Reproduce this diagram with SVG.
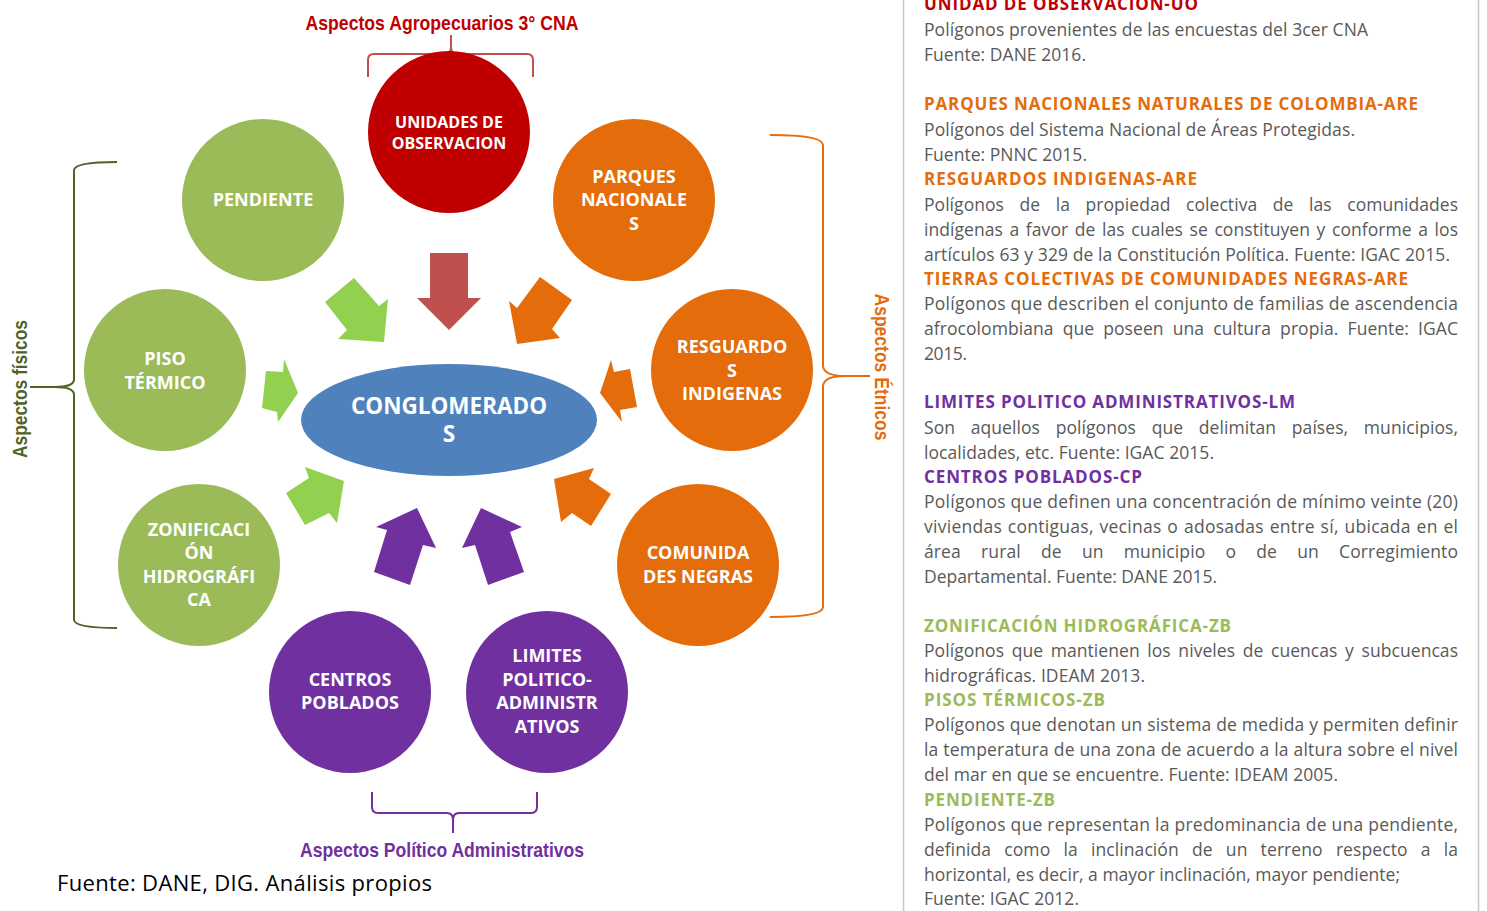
<svg xmlns="http://www.w3.org/2000/svg" width="1487" height="911" viewBox="0 0 1487 911">
<defs>
<style>
.nt{font-family:"Open Sans","DejaVu Sans",sans-serif;font-weight:bold;font-size:18px;fill:#fff;text-anchor:middle}
.lbl{font-family:"Liberation Sans Narrow","Liberation Sans",Arial,sans-serif;font-weight:bold;font-size:21px}
.b{font-family:"Open Sans","DejaVu Sans",sans-serif;font-size:17.5px;fill:#595959}
.h{font-family:"Open Sans","DejaVu Sans",sans-serif;font-size:17px;font-weight:bold}
.br{fill:none;stroke-width:2}
</style>
</defs>
<rect width="1487" height="911" fill="#fff"/>

<!-- right panel borders -->
<line x1="903.5" y1="0" x2="903.5" y2="911" stroke="#c8c8c8" stroke-width="1.5"/>
<line x1="1478.5" y1="0" x2="1478.5" y2="911" stroke="#c8c8c8" stroke-width="1.5"/>

<!-- brackets / labels -->
<g id="bracket-agro">
<path class="br" stroke="#C0504D" d="M368,77 V60 Q368,54 374,54 H444 Q451,54 451,47 V35 M451,47 Q451,54 458,54 H527 Q533,54 533,60 V77"/>
<text class="lbl" x="442" y="30" fill="#C00000" text-anchor="middle" textLength="273" lengthAdjust="spacingAndGlyphs">Aspectos Agropecuarios 3° CNA</text>
</g>
<g id="bracket-fisicos">
<path class="br" stroke="#4F6228" d="M117,162 Q75,162 74,170 V380 Q73,387 55,387 H30 M55,387 Q73,387 74,394 V620 Q75,628 117,628"/>
<text class="lbl" transform="translate(27,389) rotate(-90)" x="0" y="0" fill="#4F6228" text-anchor="middle" textLength="138" lengthAdjust="spacingAndGlyphs">Aspectos físicos</text>
</g>
<g id="bracket-etnicos">
<path class="br" stroke="#E46C0A" d="M770,135 Q823,135 823,145 V366 Q824,376 845,376 H870 M845,376 Q824,376 823,386 V607 Q823,617 770,617"/>
<text class="lbl" transform="translate(875,367) rotate(90)" x="0" y="0" fill="#E46C0A" text-anchor="middle" textLength="147" lengthAdjust="spacingAndGlyphs">Aspectos Étnicos</text>
</g>
<g id="bracket-politico">
<path class="br" stroke="#7030A0" d="M372,792 V807 Q372,813 378,813 H447 Q453,813 453,820 V833 M453,820 Q453,813 459,813 H531 Q537,813 537,807 V792"/>
<text class="lbl" x="442" y="857" fill="#7030A0" text-anchor="middle" textLength="284" lengthAdjust="spacingAndGlyphs">Aspectos Político Administrativos</text>
</g>

<!-- connectors (block arrows) -->
<g id="connectors">
<polygon fill="#C0504D" points="430,253 468,253 468,298 481,298 449,330 417,298 430,298"/>
<polygon fill="#92D050" points="325,302 354,278 379,306 388,299 384,342 338,339 347,330"/>
<polygon fill="#E46C0A" points="540,277 572,300 552,329 560,338 517,344 509,301 517,308"/>
<polygon fill="#92D050" points="266,371 283,372 284,359 298,393 278,422 277,412 262,408"/>
<polygon fill="#E46C0A" points="600,393 611,360 614,372 630,369 637,407 620,410 622,422"/>
<polygon fill="#92D050" points="305,467 344,481 337,523 329,513 305,525 286,493 309,478"/>
<polygon fill="#E46C0A" points="554,479 594,468 589,479 611,494 591,526 572,513 561,522"/>
<polygon fill="#7030A0" points="376,527 417,508 436,548 423,545 410,585 374,572 387,530"/>
<polygon fill="#7030A0" points="462,548 481,508 522,527 510,532 524,572 488,585 475,545"/>
</g>

<!-- nodes -->
<g id="node-unidades">
<circle cx="449" cy="132" r="81" fill="#C00000"/>
<text class="nt" x="449" y="128" style="font-size:16px">UNIDADES DE</text>
<text class="nt" x="449" y="149" style="font-size:16px">OBSERVACION</text>
</g>
<g id="node-pendiente">
<circle cx="263" cy="200" r="81" fill="#9BBB59"/>
<text class="nt" x="263" y="206">PENDIENTE</text>
</g>
<g id="node-parques">
<circle cx="634" cy="200" r="81" fill="#E46C0A"/>
<text class="nt" x="634" y="183">PARQUES</text>
<text class="nt" x="634" y="206">NACIONALE</text>
<text class="nt" x="634" y="230">S</text>
</g>
<g id="node-piso">
<circle cx="165" cy="370" r="81" fill="#9BBB59"/>
<text class="nt" x="165" y="365">PISO</text>
<text class="nt" x="165" y="389">TÉRMICO</text>
</g>
<g id="node-resguardos">
<circle cx="732" cy="370" r="81" fill="#E46C0A"/>
<text class="nt" x="732" y="353">RESGUARDO</text>
<text class="nt" x="732" y="377">S</text>
<text class="nt" x="732" y="400">INDIGENAS</text>
</g>
<g id="node-zonificacion">
<circle cx="199" cy="565" r="81" fill="#9BBB59"/>
<text class="nt" x="199" y="536">ZONIFICACI</text>
<text class="nt" x="199" y="559">ÓN</text>
<text class="nt" x="199" y="583">HIDROGRÁFI</text>
<text class="nt" x="199" y="606">CA</text>
</g>
<g id="node-comunidades">
<circle cx="698" cy="565" r="81" fill="#E46C0A"/>
<text class="nt" x="698" y="559">COMUNIDA</text>
<text class="nt" x="698" y="583">DES NEGRAS</text>
</g>
<g id="node-centros">
<circle cx="350" cy="692" r="81" fill="#7030A0"/>
<text class="nt" x="350" y="686">CENTROS</text>
<text class="nt" x="350" y="709">POBLADOS</text>
</g>
<g id="node-limites">
<circle cx="547" cy="692" r="81" fill="#7030A0"/>
<text class="nt" x="547" y="662">LIMITES</text>
<text class="nt" x="547" y="686">POLITICO-</text>
<text class="nt" x="547" y="709">ADMINISTR</text>
<text class="nt" x="547" y="733">ATIVOS</text>
</g>
<g id="node-conglomerados">
<ellipse cx="449" cy="420" rx="148" ry="56" fill="#4F81BD"/>
<text class="nt" x="449" y="414" style="font-size:22.5px">CONGLOMERADO</text>
<text class="nt" x="449" y="442" style="font-size:22.5px">S</text>
</g>

<text x="57" y="891" font-family="Open Sans, DejaVu Sans, sans-serif" font-size="22" fill="#000" textLength="375">Fuente: DANE, DIG. Análisis propios</text>

<!-- right description panel -->
<g id="descriptions">
<text class="h" x="924" y="10" fill="#C00000" textLength="274">UNIDAD DE OBSERVACION-UO</text>
<text class="b" x="924" y="36" textLength="444">Polígonos provenientes de las encuestas del 3cer CNA</text>
<text class="b" x="924" y="61" textLength="162">Fuente: DANE 2016.</text>

<text class="h" x="924" y="110" fill="#E46C0A" textLength="494">PARQUES NACIONALES NATURALES DE COLOMBIA-ARE</text>
<text class="b" x="924" y="136" textLength="431">Polígonos del Sistema Nacional de Áreas Protegidas.</text>
<text class="b" x="924" y="161" textLength="163">Fuente: PNNC 2015.</text>
<text class="h" x="924" y="185" fill="#E46C0A" textLength="273">RESGUARDOS INDIGENAS-ARE</text>
<text class="b" x="924" y="211" textLength="534" word-spacing="11">Polígonos de la propiedad colectiva de las comunidades</text>
<text class="b" x="924" y="236" textLength="534" word-spacing="2">indígenas a favor de las cuales se constituyen y conforme a los</text>
<text class="b" x="924" y="261" textLength="526">artículos 63 y 329 de la Constitución Política. Fuente: IGAC 2015.</text>
<text class="h" x="924" y="285" fill="#E46C0A" textLength="484">TIERRAS COLECTIVAS DE COMUNIDADES NEGRAS-ARE</text>
<text class="b" x="924" y="310" textLength="534">Polígonos que describen el conjunto de familias de ascendencia</text>
<text class="b" x="924" y="335" textLength="534" word-spacing="4.5">afrocolombiana que poseen una cultura propia. Fuente: IGAC</text>
<text class="b" x="924" y="360" textLength="43">2015.</text>

<text class="h" x="924" y="408" fill="#7030A0" textLength="371">LIMITES POLITICO ADMINISTRATIVOS-LM</text>
<text class="b" x="924" y="434" textLength="534" word-spacing="11">Son aquellos polígonos que delimitan países, municipios,</text>
<text class="b" x="924" y="459" textLength="290">localidades, etc. Fuente: IGAC 2015.</text>
<text class="h" x="924" y="483" fill="#7030A0" textLength="218">CENTROS POBLADOS-CP</text>
<text class="b" x="924" y="508" textLength="534">Polígonos que definen una concentración de mínimo veinte (20)</text>
<text class="b" x="924" y="533" textLength="534" word-spacing="1">viviendas contiguas, vecinas o adosadas entre sí, ubicada en el</text>
<text class="b" x="924" y="558" textLength="534" word-spacing="15.5">área rural de un municipio o de un Corregimiento</text>
<text class="b" x="924" y="583" textLength="293">Departamental. Fuente: DANE 2015.</text>

<text class="h" x="924" y="632" fill="#9BBB59" textLength="307">ZONIFICACIÓN HIDROGRÁFICA-ZB</text>
<text class="b" x="924" y="657" textLength="534" word-spacing="3">Polígonos que mantienen los niveles de cuencas y subcuencas</text>
<text class="b" x="924" y="682" textLength="221">hidrográficas. IDEAM 2013.</text>
<text class="h" x="924" y="706" fill="#9BBB59" textLength="181">PISOS TÉRMICOS-ZB</text>
<text class="b" x="924" y="731" textLength="534">Polígonos que denotan un sistema de medida y permiten definir</text>
<text class="b" x="924" y="756" textLength="534">la temperatura de una zona de acuerdo a la altura sobre el nivel</text>
<text class="b" x="924" y="781" textLength="414">del mar en que se encuentre. Fuente: IDEAM 2005.</text>
<text class="h" x="924" y="806" fill="#9BBB59" textLength="131">PENDIENTE-ZB</text>
<text class="b" x="924" y="831" textLength="534">Polígonos que representan la predominancia de una pendiente,</text>
<text class="b" x="924" y="856" textLength="534" word-spacing="8.5">definida como la inclinación de un terreno respecto a la</text>
<text class="b" x="924" y="881" textLength="476">horizontal, es decir, a mayor inclinación, mayor pendiente;</text>
<text class="b" x="924" y="905" textLength="155">Fuente: IGAC 2012.</text>
</g>
</svg>
